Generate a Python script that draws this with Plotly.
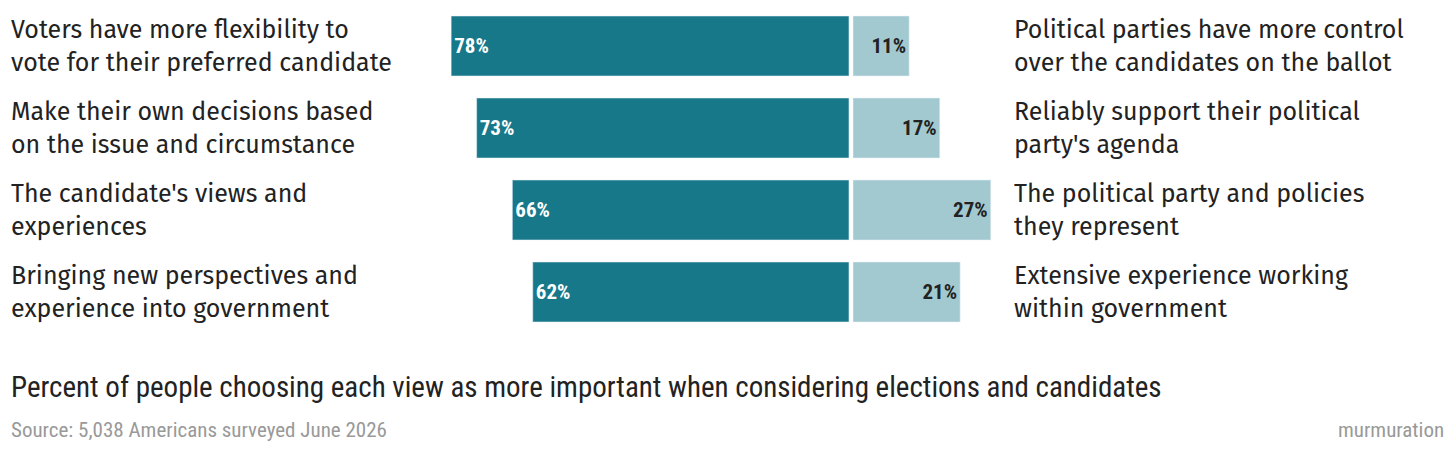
import plotly.graph_objects as go

left_labels = ["Voters have more flexibility to<br>vote for their preferred candidate",
               "Make their own decisions based<br>on the issue and circumstance",
               "The candidate's views and<br>experiences",
               "Bringing new perspectives and<br>experience into government"]
right_labels = ["Political parties have more control<br>over the candidates on the ballot",
                "Reliably support their political<br>party's agenda",
                "The political party and policies<br>they represent",
                "Extensive experience working<br>within government"]
left_vals = [78, 73, 66, 62]
right_vals = [11, 17, 27, 21]
rows = [0, 1, 2, 3]

OFF = 8  # default page body margin
W, H = 1456 - 2 * OFF, 457 - 2 * OFF
cx, ppu = 851 - OFF, 5.1
y0 = 46 - OFF
cond = "Roboto Condensed, Liberation Sans Narrow, Roboto, sans-serif"
body = "Fira Sans, Noto Sans, sans-serif"

fig = go.Figure()
fig.add_bar(y=rows, x=[-v for v in left_vals], base=-0.4, orientation="h", width=0.73,
            marker_color="#17788a", text=[f"<b>{v}%</b>" for v in left_vals],
            textposition="inside", insidetextanchor="end",
            textfont=dict(color="white", size=21, family=cond), hoverinfo="skip")
fig.add_bar(y=rows, x=right_vals, base=0.4, orientation="h", width=0.73,
            marker_color="#a3c9d0", text=[f"<b>{v}%</b>" for v in right_vals],
            textposition="inside", insidetextanchor="end",
            textfont=dict(color="#222", size=21, family=cond), hoverinfo="skip")

for i in rows:
    fig.add_annotation(x=0, xref="paper", xshift=1, y=i, yref="y", text=left_labels[i],
                       xanchor="left", yanchor="middle", align="left", showarrow=False,
                       font=dict(size=25, color="#222", family=body))
    fig.add_annotation(x=(1012 - OFF - cx) / ppu, xref="x", y=i, yref="y", text=right_labels[i],
                       xanchor="left", yanchor="middle", align="left", showarrow=False,
                       font=dict(size=25, color="#222", family=body))

fig.add_annotation(x=0, xref="paper", xshift=1, y=1 - (387 - OFF) / H, yref="paper",
                   text="Percent of people choosing each view as more important when considering elections and candidates",
                   xanchor="left", yanchor="middle", showarrow=False,
                   font=dict(size=29, color="#222", family=cond))
fig.add_annotation(x=0, xref="paper", xshift=1, y=1 - (430 - OFF) / H, yref="paper",
                   text="Source: 5,038 Americans surveyed June 2026",
                   xanchor="left", yanchor="middle", showarrow=False,
                   font=dict(size=21, color="#999", family=cond))
fig.add_annotation(x=1, xref="paper", xshift=-2, y=1 - (430 - OFF) / H, yref="paper",
                   text="murmuration", xanchor="right", yanchor="middle", showarrow=False,
                   font=dict(size=21, color="#999", family=cond))

fig.update_layout(width=W, height=H, margin=dict(l=0, r=0, t=0, b=0), barmode="overlay",
                  showlegend=False, plot_bgcolor="white", paper_bgcolor="white",
                  xaxis=dict(range=[-cx / ppu, (W - cx) / ppu], visible=False, fixedrange=True),
                  yaxis=dict(range=[(H - y0) / 82, -y0 / 82], visible=False, fixedrange=True))
fig.write_html("out.html")
